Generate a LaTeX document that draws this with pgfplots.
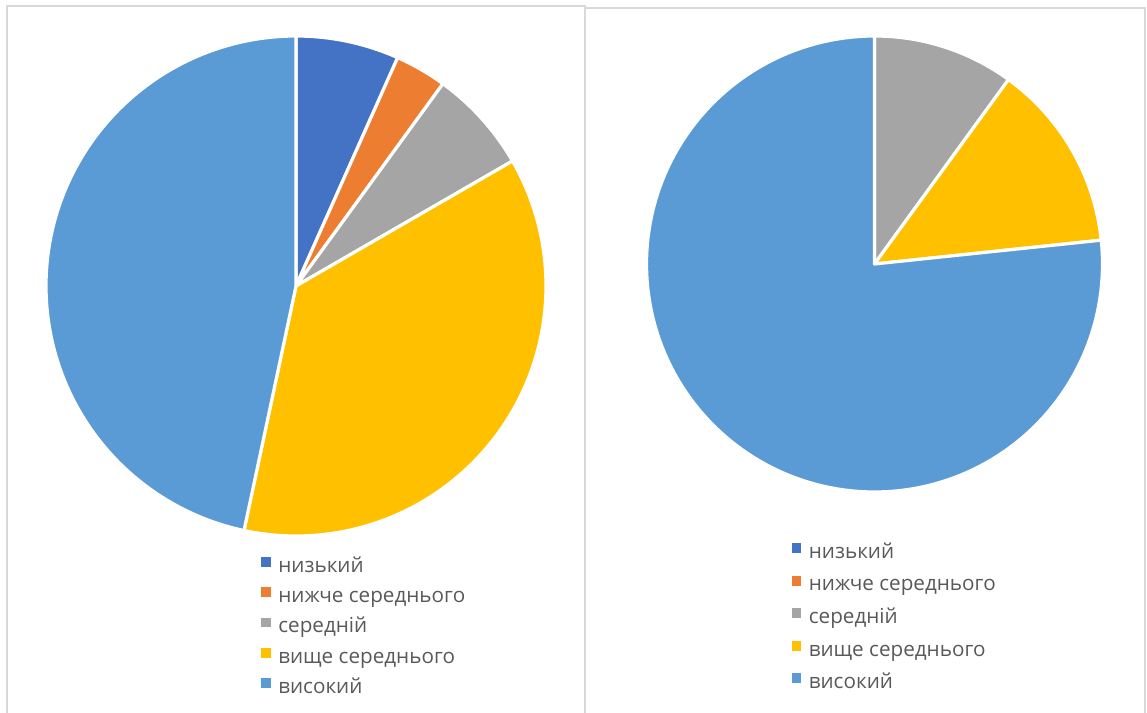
\documentclass[border=0pt]{standalone}
\usepackage{pgfplots}
\pgfplotsset{compat=1.18}
\usepackage{fontspec}
\setmainfont{Open Sans}
\definecolor{cLow}{HTML}{4472C4}
\definecolor{cBelow}{HTML}{ED7D31}
\definecolor{cMid}{HTML}{A5A5A5}
\definecolor{cAbove}{HTML}{FFC000}
\definecolor{cHigh}{HTML}{5B9BD5}
\definecolor{txt}{HTML}{595959}
\definecolor{frm}{HTML}{D9D9D9}

% slice: total, cumulative start, cumulative end, colour (clockwise from 12 o'clock)
\newcommand{\pieslice}[4]{%
  \pgfmathsetmacro\aS{90-360*(#3)/(#1)}%
  \pgfmathsetmacro\aE{90-360*(#2)/(#1)}%
  \edef\doslice{\noexpand\addplot[fill=#4, draw=white, line width=2.4pt, line join=round,
    domain=\aS:\aE, samples=150, variable=\noexpand\t]
    ({cos(\noexpand\t)},{sin(\noexpand\t)}) -- (axis cs:0,0) -- cycle;}%
  \doslice}

\newcommand{\legsq}[1]{\addlegendimage{legend image code/.code={\fill[#1] (0pt,0.6pt) rectangle (6.6pt,7.2pt);}}}

\pgfplotsset{pieaxis/.style={axis lines=none, scale only axis, xmin=-1, xmax=1, ymin=-1, ymax=1,
  anchor=center, clip=false, legend cell align=left,
  legend style={draw=none, fill=none, inner sep=0pt, outer sep=0pt, anchor=north west,
    font=\fontsize{15.5}{18}\selectfont, text=txt, column sep=6pt,
    nodes={inner sep=0pt, text height=11.5pt, text depth=3.5pt}},
  legend entries={низький, нижче середнього, середній, вище середнього, високий}}}

\begin{document}
\begin{tikzpicture}[x=0.75pt, y=-0.75pt]
\useasboundingbox (0,0) rectangle (1147,713);
\draw[frm, line width=1.1pt] (7,740) -- (7,6) -- (585,6) -- (585,740);
\draw[frm, line width=1.1pt] (585,740) -- (585,8) -- (1145,8) -- (1145,740);

\begin{axis}[pieaxis, at={(222pt,-214.5pt)}, width=375pt, height=375pt,
  legend style={at={(0.43,-0.042)}, row sep=7.7pt}]
  \legsq{cLow}\legsq{cBelow}\legsq{cMid}\legsq{cAbove}\legsq{cHigh}
  % counts: 2, 1, 2, 11, 14 (total 30)
  \pieslice{30}{0}{2}{cLow}
  \pieslice{30}{2}{3}{cBelow}
  \pieslice{30}{3}{5}{cMid}
  \pieslice{30}{5}{16}{cAbove}
  \pieslice{30}{16}{30}{cHigh}
\end{axis}

\begin{axis}[pieaxis, at={(655.875pt,-198pt)}, width=342pt, height=342pt,
  legend style={at={(0.318,-0.112)}, row sep=9.4pt}]
  \legsq{cLow}\legsq{cBelow}\legsq{cMid}\legsq{cAbove}\legsq{cHigh}
  % counts: 0, 0, 3, 4, 23 (total 30)
  \pieslice{30}{0}{3}{cMid}
  \pieslice{30}{3}{7}{cAbove}
  \pieslice{30}{7}{30}{cHigh}
\end{axis}
\end{tikzpicture}
\end{document}
